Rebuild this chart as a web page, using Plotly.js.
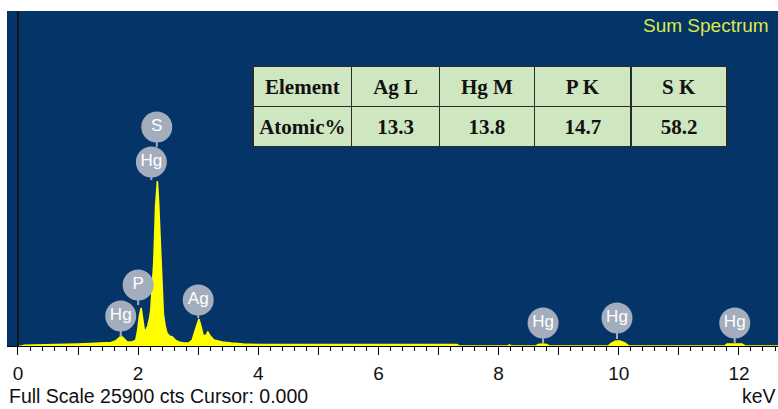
<!DOCTYPE html>
<html>
<head>
<meta charset="utf-8">
<script src="https://cdn.plot.ly/plotly-3.0.1.min.js"></script>
<style>html,body{margin:0;padding:0;background:#fff;}#chart{width:778px;height:409px;}</style>
</head>
<body>
<div id="chart"></div>
<script>
// Spectrum (keV vs counts)
const energyKeV = [0.00,0.07,0.10,0.30,0.60,0.90,1.00,1.20,1.40,1.55,1.62,1.67,1.72,1.77,1.82,1.90,1.96,1.99,2.02,2.05,2.07,2.10,2.12,2.16,2.19,2.21,2.24,2.26,2.29,2.31,2.32,2.34,2.36,2.38,2.40,2.42,2.45,2.48,2.52,2.57,2.62,2.68,2.76,2.84,2.90,2.94,2.98,3.01,3.04,3.08,3.12,3.16,3.20,3.26,3.33,3.40,3.55,3.75,4.00,5.00,6.00,6.80,7.30,7.35,8.15,8.18,8.21,8.62,8.66,8.73,8.80,8.84,9.82,9.88,9.95,10.02,10.10,10.17,11.76,11.80,12.05,12.10,12.65];
const counts = [0,0,60,80,80,90,150,190,230,270,390,620,770,540,310,310,460,1160,2320,2940,2400,1310,1160,1550,2160,2780,5020,6490,10820,12600,12750,11210,8890,6180,3710,2470,1550,1000,770,700,460,310,230,230,460,1080,1780,2090,1620,850,770,1080,770,460,390,310,230,150,120,120,120,120,120,0,0,80,0,0,120,150,120,0,0,230,390,390,230,0,0,150,150,0,0];
const fullScale = 25900;

// Element line markers
const markerLabels = ['Hg','P','Hg','S','Ag','Hg','Hg','Hg'];
const markerEnergy = [1.71, 2.00, 2.22, 2.31, 3.00, 8.74, 9.97, 11.93];
const markerCircleY = [2320, 4715, 14220, 16930, 3560, 1780, 2160, 1780];
const markerStemEnd = [700, 3170, 12830, 15380, 2160, 230, 540, 230];

// Quantification table
const tableHeader = ['Element','Ag L','Hg M','P K','S K'];
const tableRowLabel = 'Atomic%';
const atomicPercent = [13.3, 13.8, 14.7, 58.2];

// Axis ticks
const tickVals = [0,1,2,3,4,5,6,7,8,9,10,11,12];
const tickText = ['0','','2','','4','','6','','8','','10','','12'];

const stemX = [], stemY = [];
markerEnergy.forEach((e, i) => {
  stemX.push(e, e, null);
  stemY.push(markerCircleY[i], markerStemEnd[i], null);
});

const bold = s => '<b>' + s + '</b>';
const green = '#cfe7c1';

const traces = [
  {
    type: 'scatter', mode: 'lines', x: energyKeV, y: counts,
    fill: 'tozeroy', fillcolor: '#ffff00',
    line: {color: '#ffff00', width: 1.5}, hoverinfo: 'skip'
  },
  {
    type: 'scatter', mode: 'lines', x: stemX, y: stemY,
    line: {color: '#a4adbe', width: 2}, hoverinfo: 'skip'
  },
  {
    type: 'scatter', mode: 'markers+text', x: markerEnergy, y: markerCircleY,
    text: markerLabels, textposition: 'middle center',
    textfont: {family: 'Liberation Sans, Arial, sans-serif', size: 17, color: '#ffffff'},
    marker: {size: 31, color: '#a4adbe', line: {width: 0}},
    cliponaxis: false, hoverinfo: 'skip'
  },
  {
    type: 'table',
    domain: {x: [0.319, 0.935], y: [0.59, 0.834]},
    columnwidth: [99, 88, 95, 97, 96],
    header: {
      values: tableHeader.map(bold),
      align: 'center', height: 38,
      fill: {color: green}, line: {color: '#2b2b2b', width: 1.5},
      font: {family: 'Liberation Serif, Times New Roman, serif', size: 21, color: '#111'}
    },
    cells: {
      values: [[bold(tableRowLabel)]].concat(atomicPercent.map(v => [bold(v.toFixed(1))])),
      align: 'center', height: 37,
      fill: {color: green}, line: {color: '#2b2b2b', width: 1.5},
      font: {family: 'Liberation Serif, Times New Roman, serif', size: 21, color: '#111'}
    }
  }
];

const layout = {
  width: 778, height: 409,
  margin: {l: 7, r: 0, t: 11, b: 63, pad: 0},
  paper_bgcolor: '#ffffff', plot_bgcolor: '#043468',
  showlegend: false,
  xaxis: {
    range: [-0.183, 12.65], tickmode: 'array', tickvals: tickVals, ticktext: tickText,
    ticks: 'outside', ticklen: 8, tickwidth: 1, tickcolor: '#000',
    showgrid: false, zeroline: false, showline: true, linecolor: '#000', linewidth: 1,
    tickfont: {family: 'Liberation Sans, Arial, sans-serif', size: 19, color: '#111'},
    ticklabelstandoff: 2,
    minor: {dtick: 0.2, tick0: 0, ticks: 'outside', ticklen: 4, tickcolor: '#000', tickwidth: 1, showgrid: false},
    fixedrange: true
  },
  yaxis: {
    range: [0, fullScale], visible: false, showgrid: false, zeroline: false, fixedrange: true
  },
  shapes: [
    {type: 'line', xref: 'x', yref: 'paper', x0: 0, x1: 0, y0: 0, y1: 1, line: {color: '#151515', width: 2}}
  ],
  annotations: [
    {text: 'Sum Spectrum', xref: 'paper', yref: 'paper', x: 1, y: 0.958, xanchor: 'right', yanchor: 'middle', xshift: -7,
     showarrow: false, font: {family: 'Liberation Sans, Arial, sans-serif', size: 19, color: '#dce84a'}},
    {text: 'Full Scale ' + fullScale + ' cts Cursor: 0.000', xref: 'paper', yref: 'paper', x: 0, y: -0.15, xanchor: 'left', yanchor: 'middle',
     showarrow: false, font: {family: 'Liberation Sans, Arial, sans-serif', size: 19.5, color: '#111'}},
    {text: 'keV', xref: 'paper', yref: 'paper', x: 1, y: -0.15, xanchor: 'right', yanchor: 'middle',
     showarrow: false, font: {family: 'Liberation Sans, Arial, sans-serif', size: 19.5, color: '#111'}}
  ]
};

Plotly.newPlot('chart', traces, layout, {displayModeBar: false, staticPlot: true});
</script>
</body>
</html>
